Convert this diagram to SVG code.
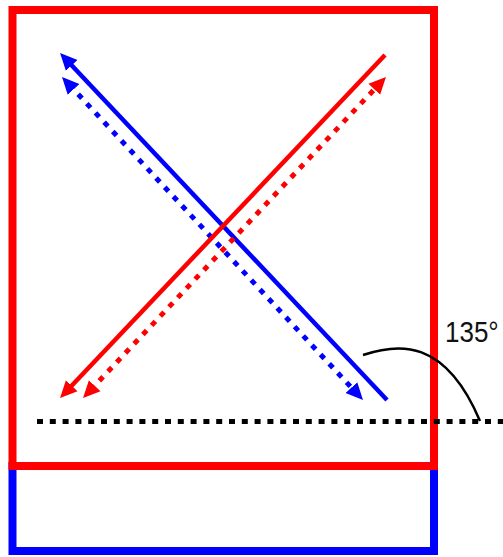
<svg xmlns="http://www.w3.org/2000/svg" width="503" height="557" viewBox="0 0 503 557">
  <style>
    .frame { fill: none; stroke-width: 8; }
    .solid { fill: none; stroke-width: 4.5; }
    .dotted { fill: none; stroke-width: 5; stroke-dasharray: 5.5 7.2; }
    .blue { stroke: #0000ff; }
    .red { stroke: #ff0000; }
    .label { font-family: "Liberation Sans", Arial, sans-serif; font-size: 26px; fill: #111111; }
  </style>
  <defs>
    <marker id="arrowBlue" viewBox="0 -9 18 18" refX="6" refY="0" markerWidth="18" markerHeight="18" markerUnits="userSpaceOnUse" orient="auto-start-reverse">
      <path d="M0,-8 L17,0 L0,8 z" fill="#0000ff"/>
    </marker>
    <marker id="arrowRed" viewBox="0 -9 18 18" refX="6" refY="0" markerWidth="18" markerHeight="18" markerUnits="userSpaceOnUse" orient="auto-start-reverse">
      <path d="M0,-8 L17,0 L0,8 z" fill="#ff0000"/>
    </marker>
  </defs>

  <g id="lower-box">
    <rect class="frame blue" x="12.5" y="466" width="421.5" height="85"/>
  </g>
  <g id="upper-box">
    <rect class="frame red" x="12.5" y="10" width="421.5" height="456"/>
  </g>

  <g id="connectors">
    <path class="solid blue" d="M387,400 L67.6,61" marker-end="url(#arrowBlue)"/>
    <path class="dotted blue" d="M69.5,85 L355.5,392" marker-start="url(#arrowBlue)" marker-end="url(#arrowBlue)"/>
    <path class="solid red" d="M385,55 L67.6,390" marker-end="url(#arrowRed)"/>
    <path class="dotted red" d="M90.6,390 L378.4,85" marker-start="url(#arrowRed)" marker-end="url(#arrowRed)"/>
    <path fill="none" stroke="#000000" stroke-width="5" stroke-dasharray="6 6.8" d="M37,421.5 L503,421.5"/>
    <path fill="none" stroke="#000000" stroke-width="2.5" d="M363,355 C398,343 445,338 480,421"/>
  </g>

  <g id="angle-label">
    <text class="label" transform="translate(445,342) scale(1,1.15)" x="0" y="0">135°</text>
  </g>
</svg>
